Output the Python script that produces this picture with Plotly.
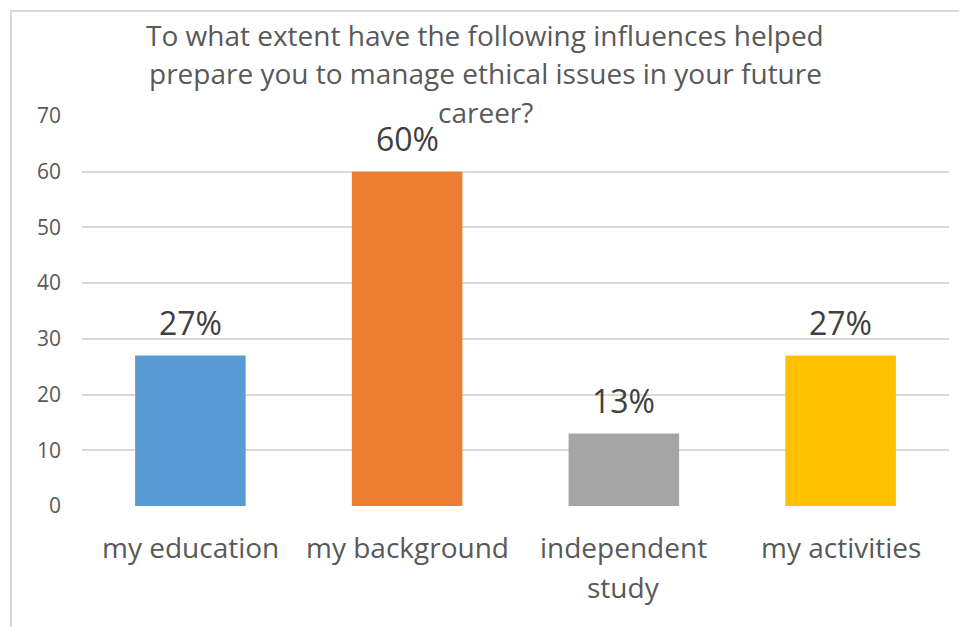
import plotly.graph_objects as go

# Survey responses (percent of respondents)
categories = ["my education", "my background", "independent study", "my activities"]
values = [27, 60, 13, 27]
value_labels = ["27%", "60%", "13%", "27%"]
category_lines = [["my education"], ["my background"], ["independent", "study"], ["my activities"]]
bar_colors = ["#5B9BD5", "#ED7D31", "#A5A5A5", "#FFC000"]
title_lines = [
    "To what extent have the following influences helped",
    "prepare you to manage ethical issues in your future",
    "career?",
]
y_ticks = [0, 10, 20, 30, 40, 50, 60, 70]

FONT = "Open Sans"
W, H = 959, 627
M_L, M_R, M_T, M_B = 82, 10, 116, 121
PLOT_H = H - M_T - M_B
PLOT_W = W - M_L - M_R


def py(pix):
    """Pixel row -> paper y."""
    return (H - M_B - pix) / PLOT_H


def px(pix):
    """Pixel column -> paper x."""
    return (pix - M_L) / PLOT_W


fig = go.Figure(
    go.Bar(
        x=categories,
        y=values,
        marker=dict(color=bar_colors, line=dict(width=0)),
        width=0.51,
        hoverinfo="skip",
    )
)

annotations = []

# value labels above each bar
for cat, val, lab in zip(categories, values, value_labels):
    annotations.append(dict(
        x=cat, y=val, xref="x", yref="y", text=lab, showarrow=False,
        yanchor="middle", yshift=33,
        font=dict(family=FONT, size=32, color="#404040"),
    ))

# category labels under the axis
for cat, lines in zip(categories, category_lines):
    for i, line in enumerate(lines):
        annotations.append(dict(
            x=cat, xref="x", yref="paper", y=py(547 + 40 * i), text=line,
            showarrow=False, yanchor="middle",
            font=dict(family=FONT, size=28, color="#595959"),
        ))

# chart title, one annotation per line
for i, line in enumerate(title_lines):
    annotations.append(dict(
        x=px(485), xref="paper", yref="paper", y=py(34.5 + 38.8 * i), text=line,
        showarrow=False, yanchor="middle", xanchor="center",
        font=dict(family=FONT, size=28, color="#595959"),
    ))

fig.update_layout(
    width=W, height=H,
    margin=dict(l=M_L, r=M_R, t=M_T, b=M_B),
    paper_bgcolor="white", plot_bgcolor="white",
    showlegend=False,
    annotations=annotations,
    shapes=[dict(
        type="rect", xref="paper", yref="paper", layer="below",
        x0=px(11), x1=px(975), y0=py(640), y1=py(11),
        line=dict(color="#D9D9D9", width=2), fillcolor="rgba(0,0,0,0)",
    )],
    xaxis=dict(
        type="category", range=[-0.5, 3.5], showticklabels=False,
        showgrid=False, zeroline=False, showline=False, ticks="",
    ),
    yaxis=dict(
        range=[0, 70], tickvals=y_ticks, showgrid=True, gridcolor="#D9D9D9",
        gridwidth=1.5, zeroline=False, showline=False, ticks="",
        ticklabelstandoff=20,
        tickfont=dict(family=FONT, size=21, color="#595959"),
    ),
)

fig.write_html("out.html")
